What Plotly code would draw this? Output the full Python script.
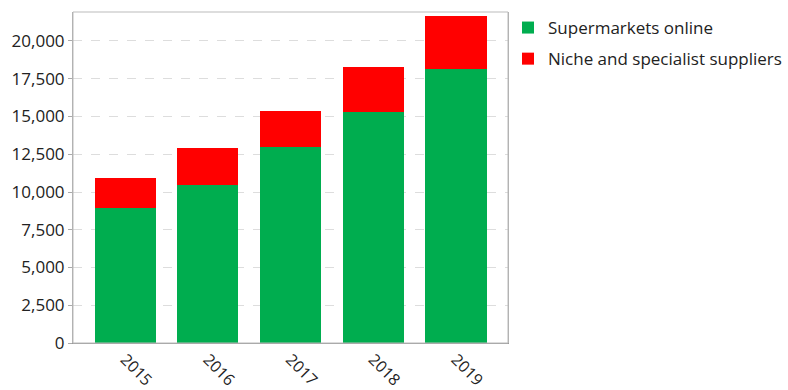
import plotly.graph_objects as go

years = ["2015", "2016", "2017", "2018", "2019"]
supermarkets = [8950, 10450, 13000, 15300, 18150]
niche = [1950, 2450, 2350, 3000, 3500]
y_ticks = [0, 2500, 5000, 7500, 10000, 12500, 15000, 17500, 20000]

fig = go.Figure()
fig.add_trace(go.Bar(x=years, y=supermarkets, name="Supermarkets online",
                     marker=dict(color="#00AD4F", line=dict(width=0)), width=0.74,
                     legendgroup="a"))
fig.add_trace(go.Bar(x=years, y=niche, name="Niche and specialist suppliers",
                     marker=dict(color="#FF0000", line=dict(width=0)), width=0.74,
                     legendgroup="b"))

fig.update_layout(
    barmode="stack",
    width=788, height=390,
    margin=dict(l=73, r=279, t=12, b=47),
    paper_bgcolor="white", plot_bgcolor="white",
    font=dict(family="Open Sans", size=16, color="#222222"),
    legend=dict(xref="container", yref="container", x=508 / 788, y=1 - 10 / 390,
                xanchor="left", yanchor="top", bgcolor="rgba(0,0,0,0)",
                font=dict(size=17, color="#222222"), traceorder="grouped",
                tracegroupgap=6, itemwidth=30),
    xaxis=dict(range=[-0.63, 4.63], tickangle=45, showline=True, linecolor="#999999",
               linewidth=1, mirror=False, showgrid=False, ticks="", automargin=False,
               tickfont=dict(size=16)),
    yaxis=dict(range=[0, 21920], tickvals=y_ticks, tickformat=",", showline=True,
               linecolor="#aaaaaa", linewidth=1, mirror=True, showgrid=True,
               gridcolor="#dddddd", griddash="dash", ticks="outside", ticklen=4,
               tickcolor="#aaaaaa", zeroline=False, automargin=False,
               tickfont=dict(size=17)),
)
fig.add_shape(type="rect", xref="paper", yref="paper", x0=0, x1=1, y0=0, y1=1,
              line=dict(color="#bbbbbb", width=1), layer="above")

fig.write_html("out.html")
